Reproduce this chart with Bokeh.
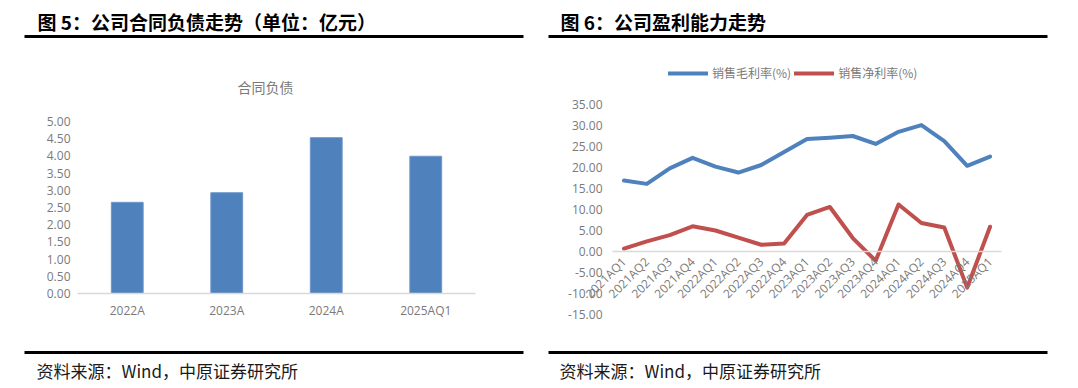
import math
from bokeh.plotting import figure
from bokeh.models import (Range1d, FixedTicker, NumeralTickFormatter,
                          Label, BoxAnnotation, Legend, LegendItem)
from bokeh.layouts import row
from bokeh.embed import file_html
from bokeh.resources import INLINE

# ---------------- data ----------------
years = ["2022A", "2023A", "2024A", "2025AQ1"]
contract_liab = [2.65, 2.93, 4.53, 3.99]
left_yticks = [0.0, 0.5, 1.0, 1.5, 2.0, 2.5, 3.0, 3.5, 4.0, 4.5, 5.0]

quarters = ["2021AQ1", "2021AQ2", "2021AQ3", "2021AQ4",
            "2022AQ1", "2022AQ2", "2022AQ3", "2022AQ4",
            "2023AQ1", "2023AQ2", "2023AQ3", "2023AQ4",
            "2024AQ1", "2024AQ2", "2024AQ3", "2024AQ4", "2025AQ1"]
gross_margin = [16.9, 16.1, 19.8, 22.3, 20.2, 18.8, 20.6, 23.7,
                26.8, 27.1, 27.5, 25.6, 28.5, 30.1, 26.3, 20.4, 22.6]
net_margin = [0.7, 2.4, 3.9, 6.0, 5.0, 3.3, 1.6, 1.9,
              8.7, 10.6, 3.2, -2.2, 11.2, 6.8, 5.7, -8.6, 5.9]
right_yticks = [-15, -10, -5, 0, 5, 10, 15, 20, 25, 30, 35]

fig5_title = "图 5：公司合同负债走势（单位：亿元）"
fig5_chart_title = "合同负债"
fig6_title = "图 6：公司盈利能力走势"
series_names = ["销售毛利率(%)", "销售净利率(%)"]
source_note = "资料来源：Wind，中原证券研究所"

# ---------------- styling / layout ----------------
BLUE = "#4F81BD"
RED = "#C0504D"
GREY_TXT = "#7A7A7A"
AXIS_GREY = "#D9D9D9"
CJK = "Noto Sans CJK SC"
NUM = "Open Sans"
H = 384  # figure height (px)


def make_panel(fig_x0, width, plot_l, plot_r, n_cat, y_top_px, y_top_val, y_bot_px, y_bot_val):
    """Figure whose frame covers the whole panel; returns figure + px->data helpers."""
    ppu_x = (plot_r - plot_l) / n_cat
    c0 = plot_l + ppu_x / 2

    def xd(px):
        return (px - c0) / ppu_x

    ppu_y = (y_bot_px - y_top_px) / (y_top_val - y_bot_val)
    zero_px = y_top_px + y_top_val * ppu_y

    def yd(py):
        return (zero_px - py) / ppu_y

    p = figure(width=width, height=H,
               x_range=Range1d(xd(fig_x0), xd(fig_x0 + width)),
               y_range=Range1d(yd(H), yd(0)),
               output_backend="svg", toolbar_location=None,
               min_border=0, min_border_left=0, min_border_right=0,
               min_border_top=0, min_border_bottom=0)
    p.xgrid.grid_line_color = None
    p.ygrid.grid_line_color = None
    p.outline_line_color = None
    p.background_fill_color = "white"
    p.border_fill_color = "white"
    return p, xd, yd


def style_axes(p, n_cat, labels, yticks, y_standoff, x_standoff, x_orient):
    p.yaxis.fixed_location = -0.5
    p.yaxis.ticker = FixedTicker(ticks=yticks)
    p.yaxis.formatter = NumeralTickFormatter(format="0.00")
    p.yaxis.axis_line_color = None
    p.yaxis.major_tick_line_color = None
    p.yaxis.minor_tick_line_color = None
    p.yaxis.major_tick_in = 0
    p.yaxis.major_tick_out = 0
    p.yaxis.major_label_standoff = y_standoff
    p.yaxis.major_label_text_font = NUM
    p.yaxis.major_label_text_font_size = "12px"
    p.yaxis.major_label_text_color = GREY_TXT

    idx = list(range(n_cat))
    p.xaxis.fixed_location = 0
    p.xaxis.bounds = (-0.5, n_cat - 0.5)
    p.xaxis.ticker = FixedTicker(ticks=idx)
    p.xaxis.major_label_overrides = {i: lab for i, lab in zip(idx, labels)}
    p.xaxis.axis_line_color = AXIS_GREY
    p.xaxis.axis_line_width = 1.5
    p.xaxis.major_tick_line_color = None
    p.xaxis.minor_tick_line_color = None
    p.xaxis.major_tick_in = 0
    p.xaxis.major_tick_out = 0
    p.xaxis.major_label_standoff = x_standoff
    p.xaxis.major_label_orientation = x_orient
    p.xaxis.major_label_text_font = NUM
    p.xaxis.major_label_text_font_size = "12px"
    p.xaxis.major_label_text_color = GREY_TXT


def decorate(p, xd, yd, title, text_x, rule_l, rule_r):
    p.add_layout(Label(x=xd(text_x), y=yd(21), text=title, text_font=CJK,
                       text_font_style="bold", text_font_size="19px",
                       text_color="#000000", text_baseline="middle", text_align="left"))
    for yc in (36, 352):
        p.add_layout(BoxAnnotation(left=xd(rule_l), right=xd(rule_r),
                                   top=yd(yc - 1.5), bottom=yd(yc + 1.5),
                                   fill_color="#000000", fill_alpha=1.0, line_color=None))
    p.add_layout(Label(x=xd(text_x - 1), y=yd(370), text=source_note, text_font=CJK,
                       text_font_size="17px", text_color="#1a1a1a",
                       text_baseline="middle", text_align="left"))


# ---------------- left chart ----------------
L_X0, L_W = 0, 539
p1, xd1, yd1 = make_panel(L_X0, L_W, 77, 475, len(years), 121, 5.0, 293, 0.0)
x1 = list(range(len(years)))
p1.vbar(x=x1, top=contract_liab, width=0.32, fill_color=BLUE, line_color="#6E97CB",
        line_width=1)
style_axes(p1, len(years), years, left_yticks, 7, 8, "horizontal")
p1.add_layout(Label(x=xd1(265), y=yd1(86), text=fig5_chart_title, text_font=CJK,
                    text_font_size="14px", text_color=GREY_TXT,
                    text_align="center", text_baseline="middle"))
decorate(p1, xd1, yd1, fig5_title, 37, 24, 523)

# ---------------- right chart ----------------
R_X0, R_W = 539, 536
p2, xd2, yd2 = make_panel(R_X0, R_W, 612, 1001, len(quarters), 104, 35.0, 314, -15.0)
x2 = list(range(len(quarters)))
r1 = p2.line(x=x2, y=gross_margin, line_color=BLUE, line_width=4,
             line_join="round", line_cap="round")
r2 = p2.line(x=x2, y=net_margin, line_color=RED, line_width=4,
             line_join="round", line_cap="round")
style_axes(p2, len(quarters), quarters, right_yticks, 10, 8, math.pi / 4)

legend = Legend(items=[LegendItem(label=series_names[0], renderers=[r1]),
                       LegendItem(label=series_names[1], renderers=[r2])],
                orientation="horizontal", location=(668 - R_X0, H - 81),
                glyph_width=40, glyph_height=16, label_height=16, label_width=10,
                label_standoff=4, spacing=3,
                padding=0, margin=0, border_line_color=None, background_fill_alpha=0,
                label_text_font=CJK, label_text_font_size="12px",
                label_text_color=GREY_TXT)
p2.add_layout(legend)
decorate(p2, xd2, yd2, fig6_title, 560, 548, 1047)

layout = row(p1, p2, spacing=0)
open("out.html", "w").write(file_html(layout, INLINE))
